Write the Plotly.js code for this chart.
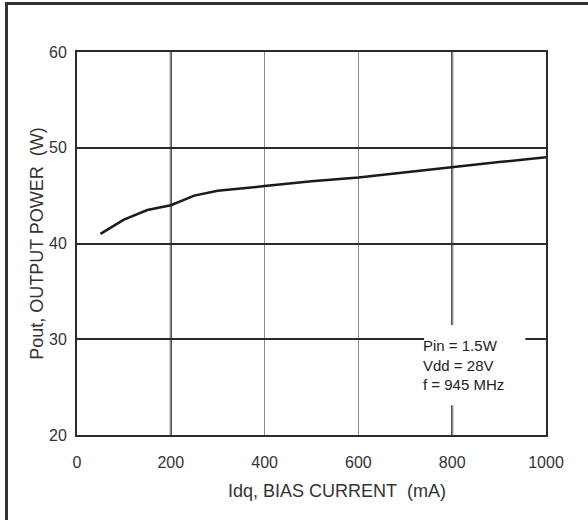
<!DOCTYPE html>
<html>
<head>
<meta charset="utf-8">
<script src="https://cdn.plot.ly/plotly-3.0.1.min.js"></script>
<style>
html,body{margin:0;padding:0;background:#fff;overflow:hidden;width:588px;height:520px;}
#wrap{position:relative;width:588px;height:520px;overflow:hidden;}
#chart{width:588px;height:520px;}
#frame{position:absolute;left:5px;top:2px;width:700px;height:700px;border-left:3px solid #333;border-top:3px solid #333;pointer-events:none;box-sizing:border-box;}
</style>
</head>
<body>
<div id="wrap"><div id="chart"></div><div id="frame"></div></div>
<script>
// Data
const biasCurrent = [50, 100, 150, 200, 250, 300, 400, 500, 600, 700, 800, 900, 1000];
const outputPower = [41.0, 42.5, 43.5, 44.0, 45.0, 45.5, 46.0, 46.5, 46.9, 47.45, 48.0, 48.5, 49.0];
const xTicks = [0, 200, 400, 600, 800, 1000];
const yTicks = [20, 30, 40, 50, 60];
const heavyXGrid = [200, 800];
const conditionLines = ['Pin = 1.5W', 'Vdd = 28V', 'f = 945 MHz'];
const xTitleText = 'Idq, BIAS CURRENT\u00a0\u00a0(mA)';
const yTitleText = 'Pout, OUTPUT POWER\u00a0\u00a0(W)';

const dark = '#2b2b2b';
const font = 'Liberation Sans, Arial, sans-serif';

const shapes = [];
heavyXGrid.forEach(v => shapes.push({
  type: 'line', xref: 'x', yref: 'paper', x0: v, x1: v, y0: 0, y1: 1,
  line: {color: dark, width: 2}, layer: 'between'
}));
// white box behind the conditions text
shapes.push({
  type: 'rect', xref: 'x', yref: 'y', x0: 740, x1: 956, y0: 23.1, y1: 31.5,
  fillcolor: '#ffffff', line: {width: 0}, layer: 'between'
});

const annotations = [{
  xref: 'x', yref: 'y', x: 733, y: 27.3, xanchor: 'left', yanchor: 'middle', align: 'left',
  text: conditionLines.join('<br>'), showarrow: false,
  font: {family: 'Liberation Sans Narrow, Liberation Sans, Arial, sans-serif', size: 15, color: '#222'}
}, {
  // x-axis title (offset to the right of centre, as in the reference)
  xref: 'paper', yref: 'paper', x: 0.5544, y: -0.146, xanchor: 'center', yanchor: 'middle',
  text: xTitleText, showarrow: false,
  font: {family: font, size: 18, color: '#333'}
}];

const trace = {
  x: biasCurrent, y: outputPower, type: 'scatter', mode: 'lines',
  line: {color: '#1a1a1a', width: 2.5}, hoverinfo: 'skip'
};

const layout = {
  width: 588, height: 520,
  margin: {l: 77, r: 42, t: 52, b: 85},
  paper_bgcolor: '#ffffff', plot_bgcolor: '#ffffff',
  showlegend: false,
  font: {family: font, color: '#333333', size: 15},
  xaxis: {
    range: [0, 1000], tickvals: xTicks, ticktext: xTicks.map(String),
    showgrid: true, gridcolor: '#8a8a8a', gridwidth: 1,
    showline: true, mirror: true, linecolor: dark, linewidth: 2,
    ticks: '', ticklabelstandoff: 12, zeroline: false, automargin: false,
    tickfont: {family: font, size: 16, color: '#333'}
  },
  yaxis: {
    range: [20, 60], tickvals: yTicks, ticktext: yTicks.map(String),
    showgrid: true, gridcolor: dark, gridwidth: 2,
    showline: true, mirror: true, linecolor: dark, linewidth: 2,
    ticks: '', ticklabelstandoff: 5, zeroline: false, automargin: false,
    tickfont: {family: font, size: 16, color: '#333'},
    title: {text: yTitleText, font: {family: font, size: 18, color: '#333'}, standoff: 1}
  },
  shapes: shapes,
  annotations: annotations
};

Plotly.newPlot('chart', [trace], layout, {displayModeBar: false, staticPlot: true});
</script>
</body>
</html>
